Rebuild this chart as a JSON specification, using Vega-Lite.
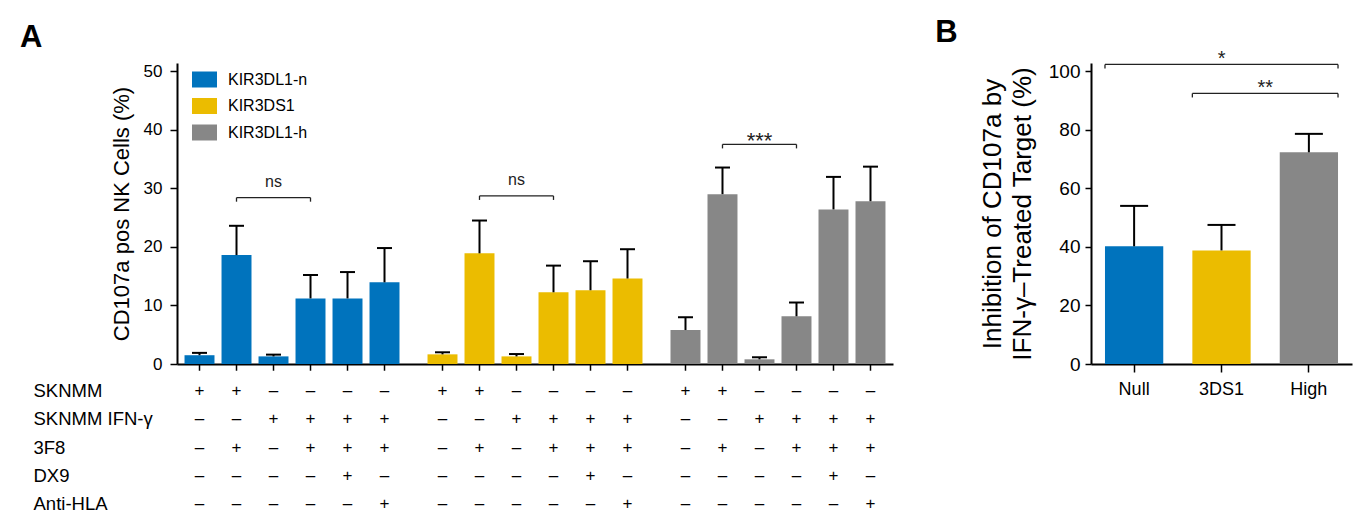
{
  "$schema": "https://vega.github.io/schema/vega-lite/v6.json",
  "background": "white",
  "padding": {"left": 20, "top": 16, "right": 5, "bottom": 5},
  "config": {
    "font": "Liberation Sans",
    "view": {"stroke": null},
    "axis": {
      "grid": false,
      "domainColor": "black",
      "domainWidth": 2,
      "tickColor": "black",
      "tickWidth": 1.5,
      "labelColor": "black",
      "titleColor": "black",
      "labelFont": "Liberation Sans",
      "titleFont": "Liberation Sans",
      "titleFontWeight": "normal"
    },
    "title": {"font": "Liberation Sans", "fontSize": 31, "fontWeight": "bold", "color": "black", "anchor": "start", "frame": "bounds"}
  },
  "resolve": {"scale": {"color": "independent"}, "legend": {"color": "independent"}},
  "datasets": {
    "bars": [
      {"group": "KIR3DL1-n", "cond": 1, "value": 1.5, "upper": 1.9, "SKNMM": "+", "SKNMM IFN-γ": "–", "3F8": "–", "DX9": "–", "Anti-HLA": "–"},
      {"group": "KIR3DL1-n", "cond": 2, "value": 18.6, "upper": 23.6, "SKNMM": "+", "SKNMM IFN-γ": "–", "3F8": "+", "DX9": "–", "Anti-HLA": "–"},
      {"group": "KIR3DL1-n", "cond": 3, "value": 1.3, "upper": 1.6, "SKNMM": "–", "SKNMM IFN-γ": "+", "3F8": "–", "DX9": "–", "Anti-HLA": "–"},
      {"group": "KIR3DL1-n", "cond": 4, "value": 11.2, "upper": 15.2, "SKNMM": "–", "SKNMM IFN-γ": "+", "3F8": "+", "DX9": "–", "Anti-HLA": "–"},
      {"group": "KIR3DL1-n", "cond": 5, "value": 11.2, "upper": 15.7, "SKNMM": "–", "SKNMM IFN-γ": "+", "3F8": "+", "DX9": "+", "Anti-HLA": "–"},
      {"group": "KIR3DL1-n", "cond": 6, "value": 13.95, "upper": 19.8, "SKNMM": "–", "SKNMM IFN-γ": "+", "3F8": "+", "DX9": "–", "Anti-HLA": "+"},
      {"group": "KIR3DS1", "cond": 1, "value": 1.65, "upper": 2.0, "SKNMM": "+", "SKNMM IFN-γ": "–", "3F8": "–", "DX9": "–", "Anti-HLA": "–"},
      {"group": "KIR3DS1", "cond": 2, "value": 18.9, "upper": 24.5, "SKNMM": "+", "SKNMM IFN-γ": "–", "3F8": "+", "DX9": "–", "Anti-HLA": "–"},
      {"group": "KIR3DS1", "cond": 3, "value": 1.3, "upper": 1.7, "SKNMM": "–", "SKNMM IFN-γ": "+", "3F8": "–", "DX9": "–", "Anti-HLA": "–"},
      {"group": "KIR3DS1", "cond": 4, "value": 12.25, "upper": 16.8, "SKNMM": "–", "SKNMM IFN-γ": "+", "3F8": "+", "DX9": "–", "Anti-HLA": "–"},
      {"group": "KIR3DS1", "cond": 5, "value": 12.6, "upper": 17.55, "SKNMM": "–", "SKNMM IFN-γ": "+", "3F8": "+", "DX9": "+", "Anti-HLA": "–"},
      {"group": "KIR3DS1", "cond": 6, "value": 14.6, "upper": 19.6, "SKNMM": "–", "SKNMM IFN-γ": "+", "3F8": "+", "DX9": "–", "Anti-HLA": "+"},
      {"group": "KIR3DL1-h", "cond": 1, "value": 5.8, "upper": 8.0, "SKNMM": "+", "SKNMM IFN-γ": "–", "3F8": "–", "DX9": "–", "Anti-HLA": "–"},
      {"group": "KIR3DL1-h", "cond": 2, "value": 29.0, "upper": 33.55, "SKNMM": "+", "SKNMM IFN-γ": "–", "3F8": "+", "DX9": "–", "Anti-HLA": "–"},
      {"group": "KIR3DL1-h", "cond": 3, "value": 0.8, "upper": 1.15, "SKNMM": "–", "SKNMM IFN-γ": "+", "3F8": "–", "DX9": "–", "Anti-HLA": "–"},
      {"group": "KIR3DL1-h", "cond": 4, "value": 8.15, "upper": 10.5, "SKNMM": "–", "SKNMM IFN-γ": "+", "3F8": "+", "DX9": "–", "Anti-HLA": "–"},
      {"group": "KIR3DL1-h", "cond": 5, "value": 26.4, "upper": 31.95, "SKNMM": "–", "SKNMM IFN-γ": "+", "3F8": "+", "DX9": "+", "Anti-HLA": "–"},
      {"group": "KIR3DL1-h", "cond": 6, "value": 27.8, "upper": 33.7, "SKNMM": "–", "SKNMM IFN-γ": "+", "3F8": "+", "DX9": "–", "Anti-HLA": "+"}
    ],
    "bracketsA": [
      {"group": "KIR3DL1-n", "from": 2, "mid": 3, "to": 4, "level": 28.4, "label": "ns", "labelLevel": 31.1},
      {"group": "KIR3DS1", "from": 2, "mid": 3, "to": 4, "level": 28.7, "label": "ns", "labelLevel": 31.5},
      {"group": "KIR3DL1-h", "from": 2, "mid": 3, "to": 4, "level": 37.5, "label": "***", "labelLevel": 38.0}
    ],
    "barsB": [
      {"grp": "Null", "value": 40.2, "upper": 54.0},
      {"grp": "3DS1", "value": 38.8, "upper": 47.5},
      {"grp": "High", "value": 72.3, "upper": 78.6}
    ],
    "bracketsB": [
      {"from": "Null", "to": "High", "level": 102.3, "label": "*", "labelLevel": 104.3},
      {"from": "3DS1", "to": "High", "level": 92.4, "label": "**", "labelLevel": 94.1}
    ]
  },
  "hconcat": [
    {
      "title": {"text": "A", "dx": -13, "offset": 8},
      "spacing": 5,
      "vconcat": [
        {
          "width": 716,
          "height": 301,
          "encoding": {
            "x": {
              "field": "group", "type": "nominal",
              "sort": ["KIR3DL1-n", "KIR3DS1", "KIR3DL1-h"],
              "scale": {"paddingInner": 0.0864, "paddingOuter": 0.0165},
              "axis": {"title": null, "labels": false, "ticks": false, "domain": true}
            },
            "xOffset": {
              "field": "cond", "type": "ordinal",
              "scale": {"paddingInner": 0.19, "paddingOuter": 0.095}
            }
          },
          "layer": [
            {
              "data": {"name": "bars"},
              "mark": {"type": "bar"},
              "encoding": {
                "y": {
                  "field": "value", "type": "quantitative",
                  "scale": {"domain": [0, 51.4], "nice": false},
                  "axis": {
                    "values": [0, 10, 20, 30, 40, 50],
                    "tickSize": 7,
                    "labelFontSize": 17,
                    "labelPadding": 8,
                    "title": "CD107a pos NK Cells (%)",
                    "titleFontSize": 22,
                    "titlePadding": 10
                  }
                },
                "color": {
                  "field": "group", "type": "nominal",
                  "scale": {"domain": ["KIR3DL1-n", "KIR3DS1", "KIR3DL1-h"], "range": ["#0073BD", "#EBBC00", "#878787"]},
                  "legend": {
                    "title": null,
                    "orient": "none",
                    "legendX": 15,
                    "legendY": 4,
                    "symbolType": "M-1,-0.64H1V0.64H-1Z",
                    "symbolSize": 625,
                    "symbolStrokeWidth": 0,
                    "symbolOpacity": 1,
                    "labelFontSize": 16,
                    "labelColor": "black",
                    "labelOffset": 11,
                    "rowPadding": 5.5
                  }
                }
              }
            },
            {
              "data": {"name": "bars"},
              "mark": {"type": "rule", "strokeWidth": 2, "color": "black"},
              "encoding": {
                "y": {"field": "value", "type": "quantitative"},
                "y2": {"field": "upper"}
              }
            },
            {
              "data": {"name": "bars"},
              "mark": {"type": "tick", "size": 15, "thickness": 2, "color": "black", "opacity": 1},
              "encoding": {"y": {"field": "upper", "type": "quantitative"}}
            },
            {
              "data": {"name": "bars"},
              "mark": {"type": "rule", "strokeWidth": 1.5, "color": "black"},
              "encoding": {"y": {"datum": 0}, "y2": {"datum": -1.15}}
            },
            {
              "data": {"name": "bracketsA"},
              "mark": {"type": "tick", "size": 74, "thickness": 1.3, "color": "#222", "opacity": 1},
              "encoding": {
                "xOffset": {"field": "mid", "type": "ordinal"},
                "y": {"field": "level", "type": "quantitative"}
              }
            },
            {
              "data": {"name": "bracketsA"},
              "mark": {"type": "tick", "orient": "vertical", "size": 4, "thickness": 1.3, "yOffset": 2, "color": "#222", "opacity": 1},
              "encoding": {
                "xOffset": {"field": "from", "type": "ordinal"},
                "y": {"field": "level", "type": "quantitative"}
              }
            },
            {
              "data": {"name": "bracketsA"},
              "mark": {"type": "tick", "orient": "vertical", "size": 4, "thickness": 1.3, "yOffset": 2, "color": "#222", "opacity": 1},
              "encoding": {
                "xOffset": {"field": "to", "type": "ordinal"},
                "y": {"field": "level", "type": "quantitative"}
              }
            },
            {
              "data": {"name": "bracketsA"},
              "transform": [{"filter": "datum.label === 'ns'"}],
              "mark": {"type": "text", "fontSize": 16, "baseline": "middle", "color": "#222"},
              "encoding": {
                "xOffset": {"field": "mid", "type": "ordinal"},
                "y": {"field": "labelLevel", "type": "quantitative"},
                "text": {"field": "label"}
              }
            },
            {
              "data": {"name": "bracketsA"},
              "transform": [{"filter": "datum.label !== 'ns'"}],
              "mark": {"type": "text", "fontSize": 22, "baseline": "middle", "color": "#222"},
              "encoding": {
                "xOffset": {"field": "mid", "type": "ordinal"},
                "y": {"field": "labelLevel", "type": "quantitative"},
                "text": {"field": "label"}
              }
            }
          ]
        },
        {
          "width": 716,
          "height": 141.5,
          "data": {"name": "bars"},
          "transform": [
            {"fold": ["SKNMM", "SKNMM IFN-γ", "3F8", "DX9", "Anti-HLA"], "as": ["factor", "sign"]}
          ],
          "mark": {"type": "text", "fontSize": 17, "color": "black", "baseline": "middle"},
          "encoding": {
            "x": {
              "field": "group", "type": "nominal",
              "sort": ["KIR3DL1-n", "KIR3DS1", "KIR3DL1-h"],
              "scale": {"paddingInner": 0.0864, "paddingOuter": 0.0165},
              "axis": null
            },
            "xOffset": {
              "field": "cond", "type": "ordinal",
              "scale": {"paddingInner": 0.19, "paddingOuter": 0.095}
            },
            "y": {
              "field": "factor", "type": "nominal",
              "sort": ["SKNMM", "SKNMM IFN-γ", "3F8", "DX9", "Anti-HLA"],
              "scale": {"type": "band", "paddingInner": 0, "paddingOuter": 0},
              "axis": {
                "title": null,
                "domain": false,
                "ticks": false,
                "labelAlign": "left",
                "labelPadding": 144,
                "labelFontSize": 18.5
              }
            },
            "text": {"field": "sign"}
          }
        }
      ]
    },
    {
      "title": {"text": "B", "dx": -44, "offset": 0},
      "width": 261,
      "height": 301,
      "encoding": {
        "x": {
          "field": "grp", "type": "nominal",
          "sort": ["Null", "3DS1", "High"],
          "scale": {"domain": ["Null", "3DS1", "High"], "paddingInner": 0.333, "paddingOuter": 0.16},
          "axis": {"title": null, "labelAngle": 0, "tickSize": 8, "labelFontSize": 18, "labelPadding": 8}
        }
      },
      "layer": [
        {
          "data": {"name": "barsB"},
          "mark": {"type": "bar"},
          "encoding": {
            "y": {
              "field": "value", "type": "quantitative",
              "scale": {"domain": [0, 102.8], "nice": false},
              "axis": {
                "values": [0, 20, 40, 60, 80, 100],
                "tickSize": 6,
                "labelFontSize": 19,
                "labelPadding": 5,
                "title": ["Inhibition of CD107a by", "IFN-γ–Treated Target (%)"],
                "titleFontSize": 26,
                "titleLineHeight": 30,
                "titlePadding": 13
              }
            },
            "color": {
              "field": "grp", "type": "nominal",
              "scale": {"domain": ["Null", "3DS1", "High"], "range": ["#0073BD", "#EBBC00", "#878787"]},
              "legend": null
            }
          }
        },
        {
          "data": {"name": "barsB"},
          "mark": {"type": "rule", "strokeWidth": 2, "color": "black"},
          "encoding": {
            "y": {"field": "value", "type": "quantitative"},
            "y2": {"field": "upper"}
          }
        },
        {
          "data": {"name": "barsB"},
          "mark": {"type": "tick", "size": 28, "thickness": 2, "color": "black", "opacity": 1},
          "encoding": {"y": {"field": "upper", "type": "quantitative"}}
        },
        {
          "data": {"name": "bracketsB"},
          "mark": {"type": "rule", "strokeWidth": 1.3, "color": "#222"},
          "encoding": {
            "x": {"field": "from", "type": "nominal", "bandPosition": 0},
            "x2": {"field": "to", "bandPosition": 1},
            "y": {"field": "level", "type": "quantitative"}
          }
        },
        {
          "data": {"name": "bracketsB"},
          "mark": {"type": "tick", "orient": "vertical", "size": 4, "thickness": 1.3, "yOffset": 2, "color": "#222", "opacity": 1},
          "encoding": {
            "x": {"field": "from", "type": "nominal", "bandPosition": 0},
            "y": {"field": "level", "type": "quantitative"}
          }
        },
        {
          "data": {"name": "bracketsB"},
          "mark": {"type": "tick", "orient": "vertical", "size": 4, "thickness": 1.3, "yOffset": 2, "color": "#222", "opacity": 1},
          "encoding": {
            "x": {"field": "to", "type": "nominal", "bandPosition": 1},
            "y": {"field": "level", "type": "quantitative"}
          }
        },
        {
          "data": {"name": "bracketsB"},
          "transform": [{"filter": "datum.label === '*'"}],
          "mark": {"type": "text", "fontSize": 20, "baseline": "middle", "color": "#222"},
          "encoding": {
            "x": {"field": "from", "type": "nominal", "bandPosition": 2},
            "y": {"field": "labelLevel", "type": "quantitative"},
            "text": {"field": "label"}
          }
        },
        {
          "data": {"name": "bracketsB"},
          "transform": [{"filter": "datum.label === '**'"}],
          "mark": {"type": "text", "fontSize": 20, "baseline": "middle", "color": "#222"},
          "encoding": {
            "x": {"field": "from", "type": "nominal", "bandPosition": 1.25},
            "y": {"field": "labelLevel", "type": "quantitative"},
            "text": {"field": "label"}
          }
        }
      ]
    }
  ],
  "spacing": 42
}
